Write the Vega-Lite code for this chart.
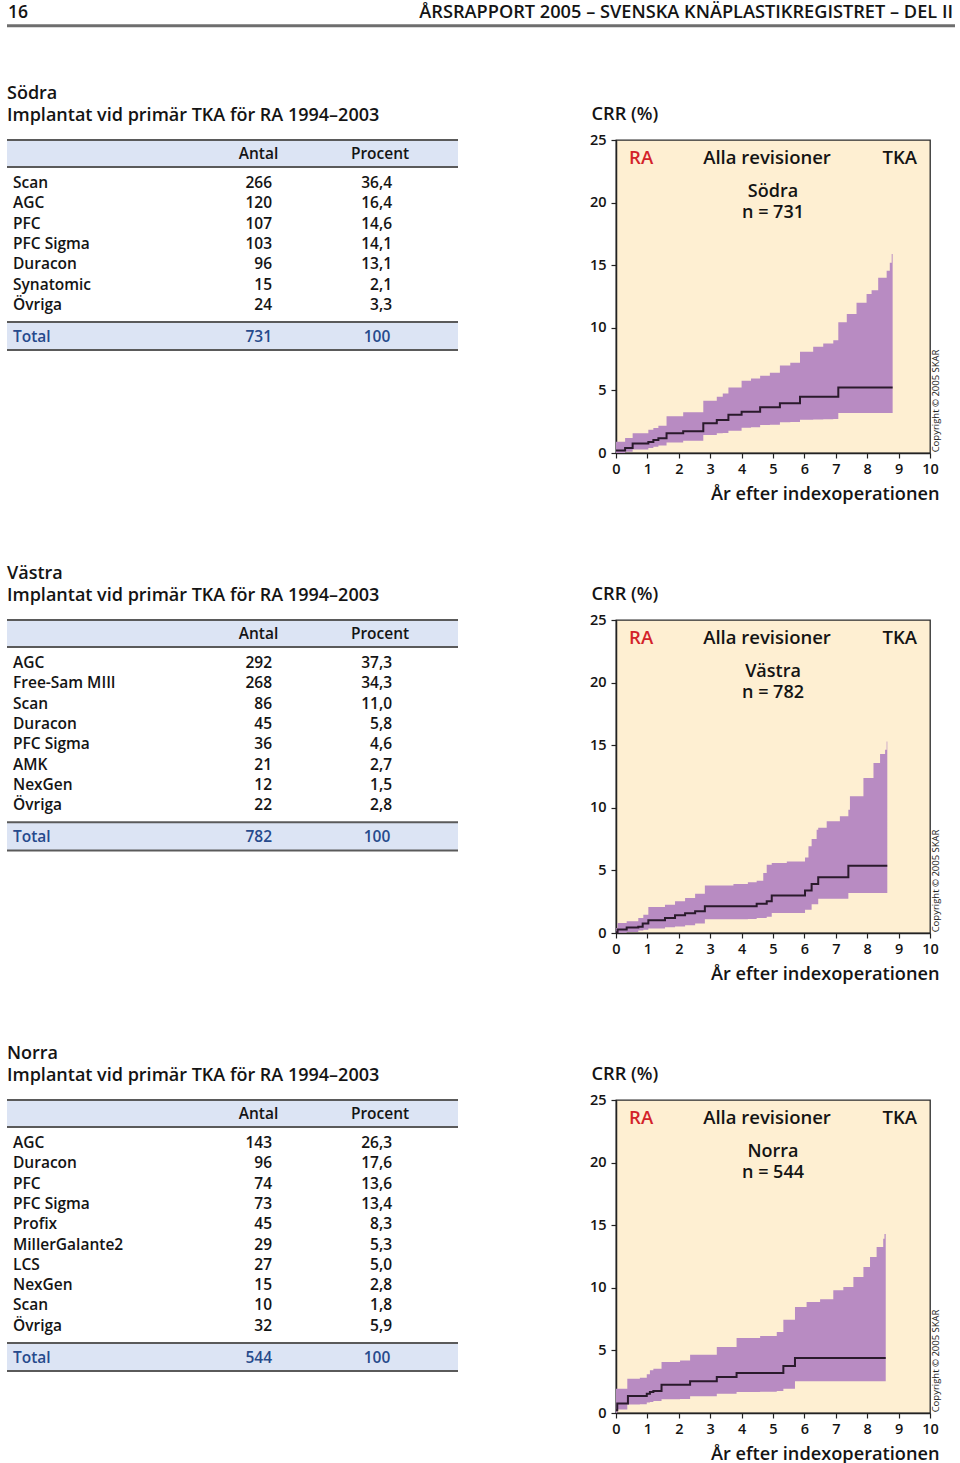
{
  "$schema": "https://vega.github.io/schema/vega-lite/v6.json",
  "background": "white",
  "padding": {"left": 5, "top": 2, "right": 4, "bottom": 0},
  "autosize": {"type": "pad"},
  "columns": 2,
  "spacing": {"row": 167, "column": 158},
  "bounds": "flush",
  "align": "each",
  "datasets": {
    "sodra_tab": [
      {"row": 1, "modell": "Scan", "antal": 266, "procent": 36.4},
      {"row": 2, "modell": "AGC", "antal": 120, "procent": 16.4},
      {"row": 3, "modell": "PFC", "antal": 107, "procent": 14.6},
      {"row": 4, "modell": "PFC Sigma", "antal": 103, "procent": 14.1},
      {"row": 5, "modell": "Duracon", "antal": 96, "procent": 13.1},
      {"row": 6, "modell": "Synatomic", "antal": 15, "procent": 2.1},
      {"row": 7, "modell": "Övriga", "antal": 24, "procent": 3.3}
    ],
    "vastra_tab": [
      {"row": 1, "modell": "AGC", "antal": 292, "procent": 37.3},
      {"row": 2, "modell": "Free-Sam MIII", "antal": 268, "procent": 34.3},
      {"row": 3, "modell": "Scan", "antal": 86, "procent": 11.0},
      {"row": 4, "modell": "Duracon", "antal": 45, "procent": 5.8},
      {"row": 5, "modell": "PFC Sigma", "antal": 36, "procent": 4.6},
      {"row": 6, "modell": "AMK", "antal": 21, "procent": 2.7},
      {"row": 7, "modell": "NexGen", "antal": 12, "procent": 1.5},
      {"row": 8, "modell": "Övriga", "antal": 22, "procent": 2.8}
    ],
    "norra_tab": [
      {"row": 1, "modell": "AGC", "antal": 143, "procent": 26.3},
      {"row": 2, "modell": "Duracon", "antal": 96, "procent": 17.6},
      {"row": 3, "modell": "PFC", "antal": 74, "procent": 13.6},
      {"row": 4, "modell": "PFC Sigma", "antal": 73, "procent": 13.4},
      {"row": 5, "modell": "Profix", "antal": 45, "procent": 8.3},
      {"row": 6, "modell": "MillerGalante2", "antal": 29, "procent": 5.3},
      {"row": 7, "modell": "LCS", "antal": 27, "procent": 5.0},
      {"row": 8, "modell": "NexGen", "antal": 15, "procent": 2.8},
      {"row": 9, "modell": "Scan", "antal": 10, "procent": 1.8},
      {"row": 10, "modell": "Övriga", "antal": 32, "procent": 5.9}
    ],
    "totaler": [
      {"region": "Södra", "modell": "Total", "antal": 731, "procent": 100},
      {"region": "Västra", "modell": "Total", "antal": 782, "procent": 100},
      {"region": "Norra", "modell": "Total", "antal": 544, "procent": 100}
    ],
    "sodra_linje": [
      {"ar": 0, "crr": 0.19}, {"ar": 0.29, "crr": 0.4}, {"ar": 0.53, "crr": 0.75}, {"ar": 1.03, "crr": 0.88},
      {"ar": 1.19, "crr": 1.04}, {"ar": 1.35, "crr": 1.17}, {"ar": 1.61, "crr": 1.57}, {"ar": 2.14, "crr": 1.73},
      {"ar": 2.78, "crr": 2.37}, {"ar": 3.21, "crr": 2.64}, {"ar": 3.58, "crr": 3.06}, {"ar": 4.0, "crr": 3.3},
      {"ar": 4.59, "crr": 3.65}, {"ar": 5.22, "crr": 3.97}, {"ar": 5.86, "crr": 4.5}, {"ar": 7.08, "crr": 5.24},
      {"ar": 8.81, "crr": 5.24}
    ],
    "sodra_band": [
      {"ar": 0, "nedre": 0, "ovre": 0.9}, {"ar": 0.29, "nedre": 0.1, "ovre": 1.2}, {"ar": 0.53, "nedre": 0.27, "ovre": 1.57},
      {"ar": 1.03, "nedre": 0.4, "ovre": 1.86}, {"ar": 1.19, "nedre": 0.5, "ovre": 2.0}, {"ar": 1.35, "nedre": 0.59, "ovre": 2.18},
      {"ar": 1.61, "nedre": 0.83, "ovre": 2.93}, {"ar": 2.14, "nedre": 0.98, "ovre": 3.25}, {"ar": 2.78, "nedre": 1.44, "ovre": 4.18},
      {"ar": 3.21, "nedre": 1.57, "ovre": 4.5}, {"ar": 3.4, "nedre": 1.6, "ovre": 4.75}, {"ar": 3.58, "nedre": 1.78, "ovre": 5.24},
      {"ar": 4.0, "nedre": 2.02, "ovre": 5.78}, {"ar": 4.3, "nedre": 2.05, "ovre": 5.95}, {"ar": 4.59, "nedre": 2.24, "ovre": 6.18},
      {"ar": 4.9, "nedre": 2.26, "ovre": 6.4}, {"ar": 5.22, "nedre": 2.45, "ovre": 6.98}, {"ar": 5.55, "nedre": 2.47, "ovre": 7.2},
      {"ar": 5.86, "nedre": 2.66, "ovre": 8.09}, {"ar": 6.28, "nedre": 2.68, "ovre": 8.49}, {"ar": 6.6, "nedre": 2.7, "ovre": 8.75},
      {"ar": 6.92, "nedre": 2.72, "ovre": 9.0}, {"ar": 7.08, "nedre": 3.19, "ovre": 10.44}, {"ar": 7.35, "nedre": 3.19, "ovre": 11.1},
      {"ar": 7.66, "nedre": 3.19, "ovre": 12.0}, {"ar": 7.98, "nedre": 3.19, "ovre": 12.7}, {"ar": 8.14, "nedre": 3.19, "ovre": 13.0},
      {"ar": 8.35, "nedre": 3.19, "ovre": 14.0}, {"ar": 8.62, "nedre": 3.19, "ovre": 14.56}, {"ar": 8.72, "nedre": 3.19, "ovre": 15.2},
      {"ar": 8.78, "nedre": 3.19, "ovre": 15.9}, {"ar": 8.81, "nedre": 3.19, "ovre": 16.3}
    ],
    "vastra_linje": [
      {"ar": 0, "crr": 0.05}, {"ar": 0.05, "crr": 0.27}, {"ar": 0.34, "crr": 0.43}, {"ar": 0.71, "crr": 0.5},
      {"ar": 0.85, "crr": 0.75}, {"ar": 1.03, "crr": 1.01}, {"ar": 1.56, "crr": 1.2}, {"ar": 1.88, "crr": 1.41},
      {"ar": 2.2, "crr": 1.57}, {"ar": 2.52, "crr": 1.73}, {"ar": 2.83, "crr": 2.13}, {"ar": 4.48, "crr": 2.34},
      {"ar": 4.8, "crr": 2.53}, {"ar": 4.96, "crr": 3.0}, {"ar": 6.02, "crr": 3.4}, {"ar": 6.23, "crr": 3.91},
      {"ar": 6.44, "crr": 4.45}, {"ar": 7.4, "crr": 5.38}, {"ar": 8.64, "crr": 5.38}
    ],
    "vastra_band": [
      {"ar": 0, "nedre": 0, "ovre": 0.4}, {"ar": 0.05, "nedre": 0.02, "ovre": 0.8}, {"ar": 0.34, "nedre": 0.08, "ovre": 0.93},
      {"ar": 0.71, "nedre": 0.19, "ovre": 1.2}, {"ar": 0.87, "nedre": 0.25, "ovre": 1.46}, {"ar": 1.03, "nedre": 0.35, "ovre": 2.08},
      {"ar": 1.56, "nedre": 0.45, "ovre": 2.26}, {"ar": 1.88, "nedre": 0.52, "ovre": 2.53}, {"ar": 2.2, "nedre": 0.61, "ovre": 2.8},
      {"ar": 2.52, "nedre": 0.75, "ovre": 3.14}, {"ar": 2.83, "nedre": 1.1, "ovre": 3.8}, {"ar": 3.74, "nedre": 1.1, "ovre": 3.91},
      {"ar": 4.2, "nedre": 1.12, "ovre": 4.05}, {"ar": 4.48, "nedre": 1.2, "ovre": 4.18}, {"ar": 4.69, "nedre": 1.2, "ovre": 4.79},
      {"ar": 4.8, "nedre": 1.3, "ovre": 5.46}, {"ar": 4.96, "nedre": 1.6, "ovre": 5.59}, {"ar": 5.44, "nedre": 1.6, "ovre": 5.72},
      {"ar": 6.02, "nedre": 1.86, "ovre": 6.04}, {"ar": 6.13, "nedre": 1.86, "ovre": 6.92}, {"ar": 6.23, "nedre": 2.3, "ovre": 7.5},
      {"ar": 6.39, "nedre": 2.3, "ovre": 8.25}, {"ar": 6.44, "nedre": 2.74, "ovre": 8.4}, {"ar": 6.71, "nedre": 2.74, "ovre": 8.92},
      {"ar": 7.13, "nedre": 2.74, "ovre": 9.32}, {"ar": 7.4, "nedre": 3.19, "ovre": 9.85}, {"ar": 7.45, "nedre": 3.19, "ovre": 10.92},
      {"ar": 7.88, "nedre": 3.19, "ovre": 12.38}, {"ar": 8.2, "nedre": 3.19, "ovre": 13.58}, {"ar": 8.41, "nedre": 3.19, "ovre": 14.3},
      {"ar": 8.57, "nedre": 3.19, "ovre": 14.64}, {"ar": 8.62, "nedre": 3.19, "ovre": 15.3}, {"ar": 8.64, "nedre": 3.19, "ovre": 15.68}
    ],
    "norra_linje": [
      {"ar": 0, "crr": 0.21}, {"ar": 0.04, "crr": 0.75}, {"ar": 0.38, "crr": 1.36}, {"ar": 0.98, "crr": 1.54},
      {"ar": 1.08, "crr": 1.68}, {"ar": 1.19, "crr": 1.76}, {"ar": 1.45, "crr": 2.26}, {"ar": 2.36, "crr": 2.53},
      {"ar": 3.21, "crr": 2.88}, {"ar": 3.84, "crr": 3.19}, {"ar": 5.33, "crr": 3.75}, {"ar": 5.7, "crr": 4.39},
      {"ar": 8.59, "crr": 4.39}
    ],
    "norra_band": [
      {"ar": 0, "nedre": 0, "ovre": 1.94}, {"ar": 0.04, "nedre": 0.27, "ovre": 1.94}, {"ar": 0.36, "nedre": 0.67, "ovre": 2.74},
      {"ar": 0.76, "nedre": 0.7, "ovre": 2.82}, {"ar": 0.98, "nedre": 0.83, "ovre": 3.09}, {"ar": 1.08, "nedre": 0.88, "ovre": 3.41},
      {"ar": 1.19, "nedre": 0.95, "ovre": 3.54}, {"ar": 1.45, "nedre": 1.09, "ovre": 4.07}, {"ar": 2.04, "nedre": 1.12, "ovre": 4.2},
      {"ar": 2.36, "nedre": 1.33, "ovre": 4.66}, {"ar": 3.21, "nedre": 1.54, "ovre": 5.27}, {"ar": 3.84, "nedre": 1.68, "ovre": 5.99},
      {"ar": 4.59, "nedre": 1.7, "ovre": 6.15}, {"ar": 5.12, "nedre": 1.75, "ovre": 6.47}, {"ar": 5.33, "nedre": 1.94, "ovre": 7.45},
      {"ar": 5.7, "nedre": 2.53, "ovre": 8.47}, {"ar": 6.07, "nedre": 2.53, "ovre": 8.87}, {"ar": 6.5, "nedre": 2.53, "ovre": 9.08},
      {"ar": 6.92, "nedre": 2.53, "ovre": 9.8}, {"ar": 7.24, "nedre": 2.53, "ovre": 10.06}, {"ar": 7.56, "nedre": 2.53, "ovre": 10.86},
      {"ar": 7.88, "nedre": 2.53, "ovre": 11.66}, {"ar": 8.09, "nedre": 2.53, "ovre": 12.46}, {"ar": 8.3, "nedre": 2.53, "ovre": 13.26},
      {"ar": 8.51, "nedre": 2.53, "ovre": 13.92}, {"ar": 8.55, "nedre": 2.53, "ovre": 14.3}, {"ar": 8.59, "nedre": 2.53, "ovre": 14.78}
    ]
  },
  "concat": [
    {
      "width": 451, "height": 313,
      "view": {"stroke": null},
      "layer": [
        {"data": {"values": [{}]}, "mark": {"type": "rect", "color": "#DCE4F4"},
         "encoding": {"x": {"datum": 0, "type": "quantitative", "scale": {"domain": [0, 100], "nice": false, "zero": false}, "axis": null}, "x2": {"datum": 100},
                      "y": {"datum": -1.118, "type": "quantitative", "scale": {"domain": [-1.118, 14.3], "reverse": true, "nice": false, "zero": false}, "axis": null}, "y2": {"datum": 0.212}}},
        {"data": {"values": [{}]}, "mark": {"type": "rect", "color": "#DCE4F4"},
         "encoding": {"x": {"datum": 0, "type": "quantitative", "axis": null}, "x2": {"datum": 100},
                      "y": {"datum": 7.85, "type": "quantitative", "axis": null}, "y2": {"datum": 9.23}}},
        {"data": {"values": [{"y": -1.118}, {"y": 0.212}, {"y": 7.85}, {"y": 9.23}]}, "mark": {"type": "rule", "color": "#5a5a5a", "strokeWidth": 2},
         "encoding": {"x": {"datum": 0, "type": "quantitative", "axis": null}, "x2": {"datum": 100},
                      "y": {"field": "y", "type": "quantitative", "axis": null}}},
        {"data": {"values": [{}]}, "mark": {"type": "rule", "color": "#6e6e6e", "strokeWidth": 3},
         "encoding": {"x": {"datum": 0, "type": "quantitative", "axis": null}, "x2": {"datum": 210.2},
                      "y": {"datum": -6.75, "type": "quantitative", "axis": null}}},
        {"data": {"values": [{}]}, "mark": {"type": "text", "align": "left", "baseline": "middle", "fontSize": 17.5},
         "encoding": {"x": {"datum": 0.22, "type": "quantitative", "axis": null}, "y": {"datum": -7.374, "type": "quantitative", "axis": null}, "text": {"value": "16"}}},
        {"data": {"values": [{}]}, "mark": {"type": "text", "align": "right", "baseline": "middle", "fontSize": 18.2},
         "encoding": {"x": {"datum": 209.76, "type": "quantitative", "axis": null}, "y": {"datum": -7.374, "type": "quantitative", "axis": null}, "text": {"value": "ÅRSRAPPORT 2005 – SVENSKA KNÄPLASTIKREGISTRET – DEL II"}}},
        {"data": {"values": [{}]}, "mark": {"type": "text", "align": "left", "baseline": "middle", "fontSize": 18},
         "encoding": {"x": {"datum": 0, "type": "quantitative", "axis": null}, "y": {"datum": -3.37, "type": "quantitative", "axis": null}, "text": {"value": "Södra"}}},
        {"data": {"values": [{}]}, "mark": {"type": "text", "align": "left", "baseline": "middle", "fontSize": 18},
         "encoding": {"x": {"datum": 0, "type": "quantitative", "axis": null}, "y": {"datum": -2.32, "type": "quantitative", "axis": null}, "text": {"value": "Implantat vid primär TKA för RA 1994–2003"}}},
        {"data": {"values": [{}]}, "mark": {"type": "text", "align": "center", "baseline": "middle", "fontSize": 15.5},
         "encoding": {"x": {"datum": 55.77, "type": "quantitative", "axis": null}, "y": {"datum": -0.428, "type": "quantitative", "axis": null}, "text": {"value": "Antal"}}},
        {"data": {"values": [{}]}, "mark": {"type": "text", "align": "center", "baseline": "middle", "fontSize": 15.5},
         "encoding": {"x": {"datum": 82.71, "type": "quantitative", "axis": null}, "y": {"datum": -0.428, "type": "quantitative", "axis": null}, "text": {"value": "Procent"}}},
        {"data": {"name": "sodra_tab"}, "mark": {"type": "text", "align": "left", "baseline": "middle", "fontSize": 15.5},
         "encoding": {"x": {"datum": 1.33, "type": "quantitative", "axis": null}, "y": {"field": "row", "type": "quantitative", "axis": null}, "text": {"field": "modell"}}},
        {"data": {"name": "sodra_tab"}, "mark": {"type": "text", "align": "right", "baseline": "middle", "fontSize": 15.5},
         "encoding": {"x": {"datum": 58.76, "type": "quantitative", "axis": null}, "y": {"field": "row", "type": "quantitative", "axis": null}, "text": {"field": "antal", "type": "quantitative", "format": "d"}}},
        {"data": {"name": "sodra_tab"}, "mark": {"type": "text", "align": "right", "baseline": "middle", "fontSize": 15.5},
         "encoding": {"x": {"datum": 85.37, "type": "quantitative", "axis": null}, "y": {"field": "row", "type": "quantitative", "axis": null}, "text": {"field": "procent", "type": "quantitative", "format": ".1f"}}},
        {"data": {"name": "totaler"}, "transform": [{"filter": {"field": "region", "equal": "Södra"}}], "mark": {"type": "text", "align": "left", "baseline": "middle", "fontSize": 15.5, "color": "#264A8C"},
         "encoding": {"x": {"datum": 1.33, "type": "quantitative", "axis": null}, "y": {"datum": 8.59, "type": "quantitative", "axis": null}, "text": {"field": "modell"}}},
        {"data": {"name": "totaler"}, "transform": [{"filter": {"field": "region", "equal": "Södra"}}], "mark": {"type": "text", "align": "right", "baseline": "middle", "fontSize": 15.5, "color": "#264A8C"},
         "encoding": {"x": {"datum": 58.76, "type": "quantitative", "axis": null}, "y": {"datum": 8.59, "type": "quantitative", "axis": null}, "text": {"field": "antal", "type": "quantitative", "format": "d"}}},
        {"data": {"name": "totaler"}, "transform": [{"filter": {"field": "region", "equal": "Södra"}}], "mark": {"type": "text", "align": "right", "baseline": "middle", "fontSize": 15.5, "color": "#264A8C"},
         "encoding": {"x": {"datum": 85.0, "type": "quantitative", "axis": null}, "y": {"datum": 8.59, "type": "quantitative", "axis": null}, "text": {"field": "procent", "type": "quantitative", "format": "d"}}}
      ]
    },
    {
      "width": 314, "height": 313,
      "view": {"fill": "#FEEFD2", "stroke": "#2a2a2a", "strokeWidth": 1.3},
      "layer": [
        {"data": {"name": "sodra_band"}, "mark": {"type": "area", "interpolate": "step-after", "color": "#B88BC2", "opacity": 1},
         "encoding": {
           "x": {"field": "ar", "type": "quantitative", "title": "År efter indexoperationen", "scale": {"domain": [0, 10], "nice": false, "zero": false},
                 "axis": {"values": [0, 1, 2, 3, 4, 5, 6, 7, 8, 9, 10], "format": "d", "labelOverlap": false, "titleX": 323, "titleY": 41, "titleAlign": "right", "titleBaseline": "middle", "labelPadding": 4}},
           "y": {"field": "nedre", "type": "quantitative", "title": "CRR (%)", "scale": {"domain": [0, 25], "nice": false, "zero": false},
                 "axis": {"values": [0, 5, 10, 15, 20, 25], "titleAngle": 0, "titleX": -25, "titleY": -25.5, "titleAlign": "left", "titleBaseline": "middle", "labelPadding": 5}},
           "y2": {"field": "ovre"}}},
        {"data": {"name": "sodra_linje"}, "mark": {"type": "line", "interpolate": "step-after", "color": "#2A1A2C", "strokeWidth": 2},
         "encoding": {
           "x": {"field": "ar", "type": "quantitative", "title": "År efter indexoperationen", "axis": {"values": [0, 1, 2, 3, 4, 5, 6, 7, 8, 9, 10], "format": "d", "labelOverlap": false, "titleX": 323, "titleY": 41, "titleAlign": "right", "titleBaseline": "middle", "labelPadding": 4}},
           "y": {"field": "crr", "type": "quantitative", "title": "CRR (%)", "axis": {"values": [0, 5, 10, 15, 20, 25], "titleAngle": 0, "titleX": -25, "titleY": -25.5, "titleAlign": "left", "titleBaseline": "middle", "labelPadding": 5}}}},
        {"data": {"values": [{}]}, "mark": {"type": "text", "fontSize": 18.5, "color": "#D3222A", "baseline": "middle"},
         "encoding": {
           "x": {"datum": 0.8, "title": "År efter indexoperationen", "axis": {"values": [0, 1, 2, 3, 4, 5, 6, 7, 8, 9, 10], "format": "d", "labelOverlap": false, "titleX": 323, "titleY": 41, "titleAlign": "right", "titleBaseline": "middle", "labelPadding": 4}},
           "y": {"datum": 23.56, "title": "CRR (%)", "axis": {"values": [0, 5, 10, 15, 20, 25], "titleAngle": 0, "titleX": -25, "titleY": -25.5, "titleAlign": "left", "titleBaseline": "middle", "labelPadding": 5}},
           "text": {"value": "RA"}}},
        {"data": {"values": [{}]}, "mark": {"type": "text", "fontSize": 18.5, "baseline": "middle"},
         "encoding": {
           "x": {"datum": 4.81, "title": "År efter indexoperationen", "axis": {"values": [0, 1, 2, 3, 4, 5, 6, 7, 8, 9, 10], "format": "d", "labelOverlap": false, "titleX": 323, "titleY": 41, "titleAlign": "right", "titleBaseline": "middle", "labelPadding": 4}},
           "y": {"datum": 23.56, "title": "CRR (%)", "axis": {"values": [0, 5, 10, 15, 20, 25], "titleAngle": 0, "titleX": -25, "titleY": -25.5, "titleAlign": "left", "titleBaseline": "middle", "labelPadding": 5}},
           "text": {"value": "Alla revisioner"}}},
        {"data": {"values": [{}]}, "mark": {"type": "text", "fontSize": 18.5, "baseline": "middle"},
         "encoding": {
           "x": {"datum": 9.04, "title": "År efter indexoperationen", "axis": {"values": [0, 1, 2, 3, 4, 5, 6, 7, 8, 9, 10], "format": "d", "labelOverlap": false, "titleX": 323, "titleY": 41, "titleAlign": "right", "titleBaseline": "middle", "labelPadding": 4}},
           "y": {"datum": 23.56, "title": "CRR (%)", "axis": {"values": [0, 5, 10, 15, 20, 25], "titleAngle": 0, "titleX": -25, "titleY": -25.5, "titleAlign": "left", "titleBaseline": "middle", "labelPadding": 5}},
           "text": {"value": "TKA"}}},
        {"data": {"values": [{}]}, "mark": {"type": "text", "fontSize": 18, "baseline": "middle"},
         "encoding": {
           "x": {"datum": 5.0, "title": "År efter indexoperationen", "axis": {"values": [0, 1, 2, 3, 4, 5, 6, 7, 8, 9, 10], "format": "d", "labelOverlap": false, "titleX": 323, "titleY": 41, "titleAlign": "right", "titleBaseline": "middle", "labelPadding": 4}},
           "y": {"datum": 20.88, "title": "CRR (%)", "axis": {"values": [0, 5, 10, 15, 20, 25], "titleAngle": 0, "titleX": -25, "titleY": -25.5, "titleAlign": "left", "titleBaseline": "middle", "labelPadding": 5}},
           "text": {"value": "Södra"}}},
        {"data": {"values": [{}]}, "mark": {"type": "text", "fontSize": 18, "baseline": "middle"},
         "encoding": {
           "x": {"datum": 5.0, "title": "År efter indexoperationen", "axis": {"values": [0, 1, 2, 3, 4, 5, 6, 7, 8, 9, 10], "format": "d", "labelOverlap": false, "titleX": 323, "titleY": 41, "titleAlign": "right", "titleBaseline": "middle", "labelPadding": 4}},
           "y": {"datum": 19.18, "title": "CRR (%)", "axis": {"values": [0, 5, 10, 15, 20, 25], "titleAngle": 0, "titleX": -25, "titleY": -25.5, "titleAlign": "left", "titleBaseline": "middle", "labelPadding": 5}},
           "text": {"value": "n = 731"}}},
        {"data": {"values": [{}]}, "mark": {"type": "text", "angle": 270, "align": "left", "baseline": "middle", "fontSize": 9.5, "fontWeight": "normal", "color": "#222222"},
         "encoding": {
           "x": {"datum": 10.19, "title": "År efter indexoperationen", "axis": {"values": [0, 1, 2, 3, 4, 5, 6, 7, 8, 9, 10], "format": "d", "labelOverlap": false, "titleX": 323, "titleY": 41, "titleAlign": "right", "titleBaseline": "middle", "labelPadding": 4}},
           "y": {"datum": 0.05, "title": "CRR (%)", "axis": {"values": [0, 5, 10, 15, 20, 25], "titleAngle": 0, "titleX": -25, "titleY": -25.5, "titleAlign": "left", "titleBaseline": "middle", "labelPadding": 5}},
           "text": {"value": "Copyright © 2005 SKAR"}}}
      ]
    },
    {
      "width": 451, "height": 313,
      "view": {"stroke": null},
      "layer": [
        {"data": {"values": [{}]}, "mark": {"type": "rect", "color": "#DCE4F4"},
         "encoding": {"x": {"datum": 0, "type": "quantitative", "scale": {"domain": [0, 100], "nice": false, "zero": false}, "axis": null}, "x2": {"datum": 100},
                      "y": {"datum": -1.118, "type": "quantitative", "scale": {"domain": [-1.118, 14.3], "reverse": true, "nice": false, "zero": false}, "axis": null}, "y2": {"datum": 0.212}}},
        {"data": {"values": [{}]}, "mark": {"type": "rect", "color": "#DCE4F4"},
         "encoding": {"x": {"datum": 0, "type": "quantitative", "axis": null}, "x2": {"datum": 100},
                      "y": {"datum": 8.85, "type": "quantitative", "axis": null}, "y2": {"datum": 10.23}}},
        {"data": {"values": [{"y": -1.118}, {"y": 0.212}, {"y": 8.85}, {"y": 10.23}]}, "mark": {"type": "rule", "color": "#5a5a5a", "strokeWidth": 2},
         "encoding": {"x": {"datum": 0, "type": "quantitative", "axis": null}, "x2": {"datum": 100},
                      "y": {"field": "y", "type": "quantitative", "axis": null}}},
        {"data": {"values": [{}]}, "mark": {"type": "text", "align": "left", "baseline": "middle", "fontSize": 18},
         "encoding": {"x": {"datum": 0, "type": "quantitative", "axis": null}, "y": {"datum": -3.37, "type": "quantitative", "axis": null}, "text": {"value": "Västra"}}},
        {"data": {"values": [{}]}, "mark": {"type": "text", "align": "left", "baseline": "middle", "fontSize": 18},
         "encoding": {"x": {"datum": 0, "type": "quantitative", "axis": null}, "y": {"datum": -2.32, "type": "quantitative", "axis": null}, "text": {"value": "Implantat vid primär TKA för RA 1994–2003"}}},
        {"data": {"values": [{}]}, "mark": {"type": "text", "align": "center", "baseline": "middle", "fontSize": 15.5},
         "encoding": {"x": {"datum": 55.77, "type": "quantitative", "axis": null}, "y": {"datum": -0.428, "type": "quantitative", "axis": null}, "text": {"value": "Antal"}}},
        {"data": {"values": [{}]}, "mark": {"type": "text", "align": "center", "baseline": "middle", "fontSize": 15.5},
         "encoding": {"x": {"datum": 82.71, "type": "quantitative", "axis": null}, "y": {"datum": -0.428, "type": "quantitative", "axis": null}, "text": {"value": "Procent"}}},
        {"data": {"name": "vastra_tab"}, "mark": {"type": "text", "align": "left", "baseline": "middle", "fontSize": 15.5},
         "encoding": {"x": {"datum": 1.33, "type": "quantitative", "axis": null}, "y": {"field": "row", "type": "quantitative", "axis": null}, "text": {"field": "modell"}}},
        {"data": {"name": "vastra_tab"}, "mark": {"type": "text", "align": "right", "baseline": "middle", "fontSize": 15.5},
         "encoding": {"x": {"datum": 58.76, "type": "quantitative", "axis": null}, "y": {"field": "row", "type": "quantitative", "axis": null}, "text": {"field": "antal", "type": "quantitative", "format": "d"}}},
        {"data": {"name": "vastra_tab"}, "mark": {"type": "text", "align": "right", "baseline": "middle", "fontSize": 15.5},
         "encoding": {"x": {"datum": 85.37, "type": "quantitative", "axis": null}, "y": {"field": "row", "type": "quantitative", "axis": null}, "text": {"field": "procent", "type": "quantitative", "format": ".1f"}}},
        {"data": {"name": "totaler"}, "transform": [{"filter": {"field": "region", "equal": "Västra"}}], "mark": {"type": "text", "align": "left", "baseline": "middle", "fontSize": 15.5, "color": "#264A8C"},
         "encoding": {"x": {"datum": 1.33, "type": "quantitative", "axis": null}, "y": {"datum": 9.59, "type": "quantitative", "axis": null}, "text": {"field": "modell"}}},
        {"data": {"name": "totaler"}, "transform": [{"filter": {"field": "region", "equal": "Västra"}}], "mark": {"type": "text", "align": "right", "baseline": "middle", "fontSize": 15.5, "color": "#264A8C"},
         "encoding": {"x": {"datum": 58.76, "type": "quantitative", "axis": null}, "y": {"datum": 9.59, "type": "quantitative", "axis": null}, "text": {"field": "antal", "type": "quantitative", "format": "d"}}},
        {"data": {"name": "totaler"}, "transform": [{"filter": {"field": "region", "equal": "Västra"}}], "mark": {"type": "text", "align": "right", "baseline": "middle", "fontSize": 15.5, "color": "#264A8C"},
         "encoding": {"x": {"datum": 85.0, "type": "quantitative", "axis": null}, "y": {"datum": 9.59, "type": "quantitative", "axis": null}, "text": {"field": "procent", "type": "quantitative", "format": "d"}}}
      ]
    },
    {
      "width": 314, "height": 313,
      "view": {"fill": "#FEEFD2", "stroke": "#2a2a2a", "strokeWidth": 1.3},
      "layer": [
        {"data": {"name": "vastra_band"}, "mark": {"type": "area", "interpolate": "step-after", "color": "#B88BC2", "opacity": 1},
         "encoding": {
           "x": {"field": "ar", "type": "quantitative", "title": "År efter indexoperationen", "scale": {"domain": [0, 10], "nice": false, "zero": false},
                 "axis": {"values": [0, 1, 2, 3, 4, 5, 6, 7, 8, 9, 10], "format": "d", "labelOverlap": false, "titleX": 323, "titleY": 41, "titleAlign": "right", "titleBaseline": "middle", "labelPadding": 4}},
           "y": {"field": "nedre", "type": "quantitative", "title": "CRR (%)", "scale": {"domain": [0, 25], "nice": false, "zero": false},
                 "axis": {"values": [0, 5, 10, 15, 20, 25], "titleAngle": 0, "titleX": -25, "titleY": -25.5, "titleAlign": "left", "titleBaseline": "middle", "labelPadding": 5}},
           "y2": {"field": "ovre"}}},
        {"data": {"name": "vastra_linje"}, "mark": {"type": "line", "interpolate": "step-after", "color": "#2A1A2C", "strokeWidth": 2},
         "encoding": {
           "x": {"field": "ar", "type": "quantitative", "title": "År efter indexoperationen", "axis": {"values": [0, 1, 2, 3, 4, 5, 6, 7, 8, 9, 10], "format": "d", "labelOverlap": false, "titleX": 323, "titleY": 41, "titleAlign": "right", "titleBaseline": "middle", "labelPadding": 4}},
           "y": {"field": "crr", "type": "quantitative", "title": "CRR (%)", "axis": {"values": [0, 5, 10, 15, 20, 25], "titleAngle": 0, "titleX": -25, "titleY": -25.5, "titleAlign": "left", "titleBaseline": "middle", "labelPadding": 5}}}},
        {"data": {"values": [{}]}, "mark": {"type": "text", "fontSize": 18.5, "color": "#D3222A", "baseline": "middle"},
         "encoding": {
           "x": {"datum": 0.8, "title": "År efter indexoperationen", "axis": {"values": [0, 1, 2, 3, 4, 5, 6, 7, 8, 9, 10], "format": "d", "labelOverlap": false, "titleX": 323, "titleY": 41, "titleAlign": "right", "titleBaseline": "middle", "labelPadding": 4}},
           "y": {"datum": 23.56, "title": "CRR (%)", "axis": {"values": [0, 5, 10, 15, 20, 25], "titleAngle": 0, "titleX": -25, "titleY": -25.5, "titleAlign": "left", "titleBaseline": "middle", "labelPadding": 5}},
           "text": {"value": "RA"}}},
        {"data": {"values": [{}]}, "mark": {"type": "text", "fontSize": 18.5, "baseline": "middle"},
         "encoding": {
           "x": {"datum": 4.81, "title": "År efter indexoperationen", "axis": {"values": [0, 1, 2, 3, 4, 5, 6, 7, 8, 9, 10], "format": "d", "labelOverlap": false, "titleX": 323, "titleY": 41, "titleAlign": "right", "titleBaseline": "middle", "labelPadding": 4}},
           "y": {"datum": 23.56, "title": "CRR (%)", "axis": {"values": [0, 5, 10, 15, 20, 25], "titleAngle": 0, "titleX": -25, "titleY": -25.5, "titleAlign": "left", "titleBaseline": "middle", "labelPadding": 5}},
           "text": {"value": "Alla revisioner"}}},
        {"data": {"values": [{}]}, "mark": {"type": "text", "fontSize": 18.5, "baseline": "middle"},
         "encoding": {
           "x": {"datum": 9.04, "title": "År efter indexoperationen", "axis": {"values": [0, 1, 2, 3, 4, 5, 6, 7, 8, 9, 10], "format": "d", "labelOverlap": false, "titleX": 323, "titleY": 41, "titleAlign": "right", "titleBaseline": "middle", "labelPadding": 4}},
           "y": {"datum": 23.56, "title": "CRR (%)", "axis": {"values": [0, 5, 10, 15, 20, 25], "titleAngle": 0, "titleX": -25, "titleY": -25.5, "titleAlign": "left", "titleBaseline": "middle", "labelPadding": 5}},
           "text": {"value": "TKA"}}},
        {"data": {"values": [{}]}, "mark": {"type": "text", "fontSize": 18, "baseline": "middle"},
         "encoding": {
           "x": {"datum": 5.0, "title": "År efter indexoperationen", "axis": {"values": [0, 1, 2, 3, 4, 5, 6, 7, 8, 9, 10], "format": "d", "labelOverlap": false, "titleX": 323, "titleY": 41, "titleAlign": "right", "titleBaseline": "middle", "labelPadding": 4}},
           "y": {"datum": 20.88, "title": "CRR (%)", "axis": {"values": [0, 5, 10, 15, 20, 25], "titleAngle": 0, "titleX": -25, "titleY": -25.5, "titleAlign": "left", "titleBaseline": "middle", "labelPadding": 5}},
           "text": {"value": "Västra"}}},
        {"data": {"values": [{}]}, "mark": {"type": "text", "fontSize": 18, "baseline": "middle"},
         "encoding": {
           "x": {"datum": 5.0, "title": "År efter indexoperationen", "axis": {"values": [0, 1, 2, 3, 4, 5, 6, 7, 8, 9, 10], "format": "d", "labelOverlap": false, "titleX": 323, "titleY": 41, "titleAlign": "right", "titleBaseline": "middle", "labelPadding": 4}},
           "y": {"datum": 19.18, "title": "CRR (%)", "axis": {"values": [0, 5, 10, 15, 20, 25], "titleAngle": 0, "titleX": -25, "titleY": -25.5, "titleAlign": "left", "titleBaseline": "middle", "labelPadding": 5}},
           "text": {"value": "n = 782"}}},
        {"data": {"values": [{}]}, "mark": {"type": "text", "angle": 270, "align": "left", "baseline": "middle", "fontSize": 9.5, "fontWeight": "normal", "color": "#222222"},
         "encoding": {
           "x": {"datum": 10.19, "title": "År efter indexoperationen", "axis": {"values": [0, 1, 2, 3, 4, 5, 6, 7, 8, 9, 10], "format": "d", "labelOverlap": false, "titleX": 323, "titleY": 41, "titleAlign": "right", "titleBaseline": "middle", "labelPadding": 4}},
           "y": {"datum": 0.05, "title": "CRR (%)", "axis": {"values": [0, 5, 10, 15, 20, 25], "titleAngle": 0, "titleX": -25, "titleY": -25.5, "titleAlign": "left", "titleBaseline": "middle", "labelPadding": 5}},
           "text": {"value": "Copyright © 2005 SKAR"}}}
      ]
    },
    {
      "width": 451, "height": 313,
      "view": {"stroke": null},
      "layer": [
        {"data": {"values": [{}]}, "mark": {"type": "rect", "color": "#DCE4F4"},
         "encoding": {"x": {"datum": 0, "type": "quantitative", "scale": {"domain": [0, 100], "nice": false, "zero": false}, "axis": null}, "x2": {"datum": 100},
                      "y": {"datum": -1.118, "type": "quantitative", "scale": {"domain": [-1.118, 14.3], "reverse": true, "nice": false, "zero": false}, "axis": null}, "y2": {"datum": 0.212}}},
        {"data": {"values": [{}]}, "mark": {"type": "rect", "color": "#DCE4F4"},
         "encoding": {"x": {"datum": 0, "type": "quantitative", "axis": null}, "x2": {"datum": 100},
                      "y": {"datum": 10.85, "type": "quantitative", "axis": null}, "y2": {"datum": 12.23}}},
        {"data": {"values": [{"y": -1.118}, {"y": 0.212}, {"y": 10.85}, {"y": 12.23}]}, "mark": {"type": "rule", "color": "#5a5a5a", "strokeWidth": 2},
         "encoding": {"x": {"datum": 0, "type": "quantitative", "axis": null}, "x2": {"datum": 100},
                      "y": {"field": "y", "type": "quantitative", "axis": null}}},
        {"data": {"values": [{}]}, "mark": {"type": "text", "align": "left", "baseline": "middle", "fontSize": 18},
         "encoding": {"x": {"datum": 0, "type": "quantitative", "axis": null}, "y": {"datum": -3.37, "type": "quantitative", "axis": null}, "text": {"value": "Norra"}}},
        {"data": {"values": [{}]}, "mark": {"type": "text", "align": "left", "baseline": "middle", "fontSize": 18},
         "encoding": {"x": {"datum": 0, "type": "quantitative", "axis": null}, "y": {"datum": -2.32, "type": "quantitative", "axis": null}, "text": {"value": "Implantat vid primär TKA för RA 1994–2003"}}},
        {"data": {"values": [{}]}, "mark": {"type": "text", "align": "center", "baseline": "middle", "fontSize": 15.5},
         "encoding": {"x": {"datum": 55.77, "type": "quantitative", "axis": null}, "y": {"datum": -0.428, "type": "quantitative", "axis": null}, "text": {"value": "Antal"}}},
        {"data": {"values": [{}]}, "mark": {"type": "text", "align": "center", "baseline": "middle", "fontSize": 15.5},
         "encoding": {"x": {"datum": 82.71, "type": "quantitative", "axis": null}, "y": {"datum": -0.428, "type": "quantitative", "axis": null}, "text": {"value": "Procent"}}},
        {"data": {"name": "norra_tab"}, "mark": {"type": "text", "align": "left", "baseline": "middle", "fontSize": 15.5},
         "encoding": {"x": {"datum": 1.33, "type": "quantitative", "axis": null}, "y": {"field": "row", "type": "quantitative", "axis": null}, "text": {"field": "modell"}}},
        {"data": {"name": "norra_tab"}, "mark": {"type": "text", "align": "right", "baseline": "middle", "fontSize": 15.5},
         "encoding": {"x": {"datum": 58.76, "type": "quantitative", "axis": null}, "y": {"field": "row", "type": "quantitative", "axis": null}, "text": {"field": "antal", "type": "quantitative", "format": "d"}}},
        {"data": {"name": "norra_tab"}, "mark": {"type": "text", "align": "right", "baseline": "middle", "fontSize": 15.5},
         "encoding": {"x": {"datum": 85.37, "type": "quantitative", "axis": null}, "y": {"field": "row", "type": "quantitative", "axis": null}, "text": {"field": "procent", "type": "quantitative", "format": ".1f"}}},
        {"data": {"name": "totaler"}, "transform": [{"filter": {"field": "region", "equal": "Norra"}}], "mark": {"type": "text", "align": "left", "baseline": "middle", "fontSize": 15.5, "color": "#264A8C"},
         "encoding": {"x": {"datum": 1.33, "type": "quantitative", "axis": null}, "y": {"datum": 11.59, "type": "quantitative", "axis": null}, "text": {"field": "modell"}}},
        {"data": {"name": "totaler"}, "transform": [{"filter": {"field": "region", "equal": "Norra"}}], "mark": {"type": "text", "align": "right", "baseline": "middle", "fontSize": 15.5, "color": "#264A8C"},
         "encoding": {"x": {"datum": 58.76, "type": "quantitative", "axis": null}, "y": {"datum": 11.59, "type": "quantitative", "axis": null}, "text": {"field": "antal", "type": "quantitative", "format": "d"}}},
        {"data": {"name": "totaler"}, "transform": [{"filter": {"field": "region", "equal": "Norra"}}], "mark": {"type": "text", "align": "right", "baseline": "middle", "fontSize": 15.5, "color": "#264A8C"},
         "encoding": {"x": {"datum": 85.0, "type": "quantitative", "axis": null}, "y": {"datum": 11.59, "type": "quantitative", "axis": null}, "text": {"field": "procent", "type": "quantitative", "format": "d"}}}
      ]
    },
    {
      "width": 314, "height": 313,
      "view": {"fill": "#FEEFD2", "stroke": "#2a2a2a", "strokeWidth": 1.3},
      "layer": [
        {"data": {"name": "norra_band"}, "mark": {"type": "area", "interpolate": "step-after", "color": "#B88BC2", "opacity": 1},
         "encoding": {
           "x": {"field": "ar", "type": "quantitative", "title": "År efter indexoperationen", "scale": {"domain": [0, 10], "nice": false, "zero": false},
                 "axis": {"values": [0, 1, 2, 3, 4, 5, 6, 7, 8, 9, 10], "format": "d", "labelOverlap": false, "titleX": 323, "titleY": 41, "titleAlign": "right", "titleBaseline": "middle", "labelPadding": 4}},
           "y": {"field": "nedre", "type": "quantitative", "title": "CRR (%)", "scale": {"domain": [0, 25], "nice": false, "zero": false},
                 "axis": {"values": [0, 5, 10, 15, 20, 25], "titleAngle": 0, "titleX": -25, "titleY": -25.5, "titleAlign": "left", "titleBaseline": "middle", "labelPadding": 5}},
           "y2": {"field": "ovre"}}},
        {"data": {"name": "norra_linje"}, "mark": {"type": "line", "interpolate": "step-after", "color": "#2A1A2C", "strokeWidth": 2},
         "encoding": {
           "x": {"field": "ar", "type": "quantitative", "title": "År efter indexoperationen", "axis": {"values": [0, 1, 2, 3, 4, 5, 6, 7, 8, 9, 10], "format": "d", "labelOverlap": false, "titleX": 323, "titleY": 41, "titleAlign": "right", "titleBaseline": "middle", "labelPadding": 4}},
           "y": {"field": "crr", "type": "quantitative", "title": "CRR (%)", "axis": {"values": [0, 5, 10, 15, 20, 25], "titleAngle": 0, "titleX": -25, "titleY": -25.5, "titleAlign": "left", "titleBaseline": "middle", "labelPadding": 5}}}},
        {"data": {"values": [{}]}, "mark": {"type": "text", "fontSize": 18.5, "color": "#D3222A", "baseline": "middle"},
         "encoding": {
           "x": {"datum": 0.8, "title": "År efter indexoperationen", "axis": {"values": [0, 1, 2, 3, 4, 5, 6, 7, 8, 9, 10], "format": "d", "labelOverlap": false, "titleX": 323, "titleY": 41, "titleAlign": "right", "titleBaseline": "middle", "labelPadding": 4}},
           "y": {"datum": 23.56, "title": "CRR (%)", "axis": {"values": [0, 5, 10, 15, 20, 25], "titleAngle": 0, "titleX": -25, "titleY": -25.5, "titleAlign": "left", "titleBaseline": "middle", "labelPadding": 5}},
           "text": {"value": "RA"}}},
        {"data": {"values": [{}]}, "mark": {"type": "text", "fontSize": 18.5, "baseline": "middle"},
         "encoding": {
           "x": {"datum": 4.81, "title": "År efter indexoperationen", "axis": {"values": [0, 1, 2, 3, 4, 5, 6, 7, 8, 9, 10], "format": "d", "labelOverlap": false, "titleX": 323, "titleY": 41, "titleAlign": "right", "titleBaseline": "middle", "labelPadding": 4}},
           "y": {"datum": 23.56, "title": "CRR (%)", "axis": {"values": [0, 5, 10, 15, 20, 25], "titleAngle": 0, "titleX": -25, "titleY": -25.5, "titleAlign": "left", "titleBaseline": "middle", "labelPadding": 5}},
           "text": {"value": "Alla revisioner"}}},
        {"data": {"values": [{}]}, "mark": {"type": "text", "fontSize": 18.5, "baseline": "middle"},
         "encoding": {
           "x": {"datum": 9.04, "title": "År efter indexoperationen", "axis": {"values": [0, 1, 2, 3, 4, 5, 6, 7, 8, 9, 10], "format": "d", "labelOverlap": false, "titleX": 323, "titleY": 41, "titleAlign": "right", "titleBaseline": "middle", "labelPadding": 4}},
           "y": {"datum": 23.56, "title": "CRR (%)", "axis": {"values": [0, 5, 10, 15, 20, 25], "titleAngle": 0, "titleX": -25, "titleY": -25.5, "titleAlign": "left", "titleBaseline": "middle", "labelPadding": 5}},
           "text": {"value": "TKA"}}},
        {"data": {"values": [{}]}, "mark": {"type": "text", "fontSize": 18, "baseline": "middle"},
         "encoding": {
           "x": {"datum": 5.0, "title": "År efter indexoperationen", "axis": {"values": [0, 1, 2, 3, 4, 5, 6, 7, 8, 9, 10], "format": "d", "labelOverlap": false, "titleX": 323, "titleY": 41, "titleAlign": "right", "titleBaseline": "middle", "labelPadding": 4}},
           "y": {"datum": 20.88, "title": "CRR (%)", "axis": {"values": [0, 5, 10, 15, 20, 25], "titleAngle": 0, "titleX": -25, "titleY": -25.5, "titleAlign": "left", "titleBaseline": "middle", "labelPadding": 5}},
           "text": {"value": "Norra"}}},
        {"data": {"values": [{}]}, "mark": {"type": "text", "fontSize": 18, "baseline": "middle"},
         "encoding": {
           "x": {"datum": 5.0, "title": "År efter indexoperationen", "axis": {"values": [0, 1, 2, 3, 4, 5, 6, 7, 8, 9, 10], "format": "d", "labelOverlap": false, "titleX": 323, "titleY": 41, "titleAlign": "right", "titleBaseline": "middle", "labelPadding": 4}},
           "y": {"datum": 19.18, "title": "CRR (%)", "axis": {"values": [0, 5, 10, 15, 20, 25], "titleAngle": 0, "titleX": -25, "titleY": -25.5, "titleAlign": "left", "titleBaseline": "middle", "labelPadding": 5}},
           "text": {"value": "n = 544"}}},
        {"data": {"values": [{}]}, "mark": {"type": "text", "angle": 270, "align": "left", "baseline": "middle", "fontSize": 9.5, "fontWeight": "normal", "color": "#222222"},
         "encoding": {
           "x": {"datum": 10.19, "title": "År efter indexoperationen", "axis": {"values": [0, 1, 2, 3, 4, 5, 6, 7, 8, 9, 10], "format": "d", "labelOverlap": false, "titleX": 323, "titleY": 41, "titleAlign": "right", "titleBaseline": "middle", "labelPadding": 4}},
           "y": {"datum": 0.05, "title": "CRR (%)", "axis": {"values": [0, 5, 10, 15, 20, 25], "titleAngle": 0, "titleX": -25, "titleY": -25.5, "titleAlign": "left", "titleBaseline": "middle", "labelPadding": 5}},
           "text": {"value": "Copyright © 2005 SKAR"}}}
      ]
    }
  ],
  "config": {
    "font": "Open Sans",
    "locale": {"number": {"decimal": ",", "thousands": " ", "grouping": [3], "currency": ["", " kr"]}},
    "text": {"font": "Open Sans", "fontWeight": 600, "color": "#141414"},
    "axis": {
      "labelFont": "Open Sans", "labelFontSize": 14.5, "labelFontWeight": 600, "labelColor": "#141414",
      "titleFont": "Open Sans", "titleFontSize": 18.2, "titleFontWeight": 600, "titleColor": "#141414",
      "domainColor": "#222222", "domainWidth": 1.5, "tickColor": "#222222", "tickWidth": 1.2, "tickSize": 5,
      "grid": false, "labelFlush": false, "labelOverlap": false
    }
  }
}
